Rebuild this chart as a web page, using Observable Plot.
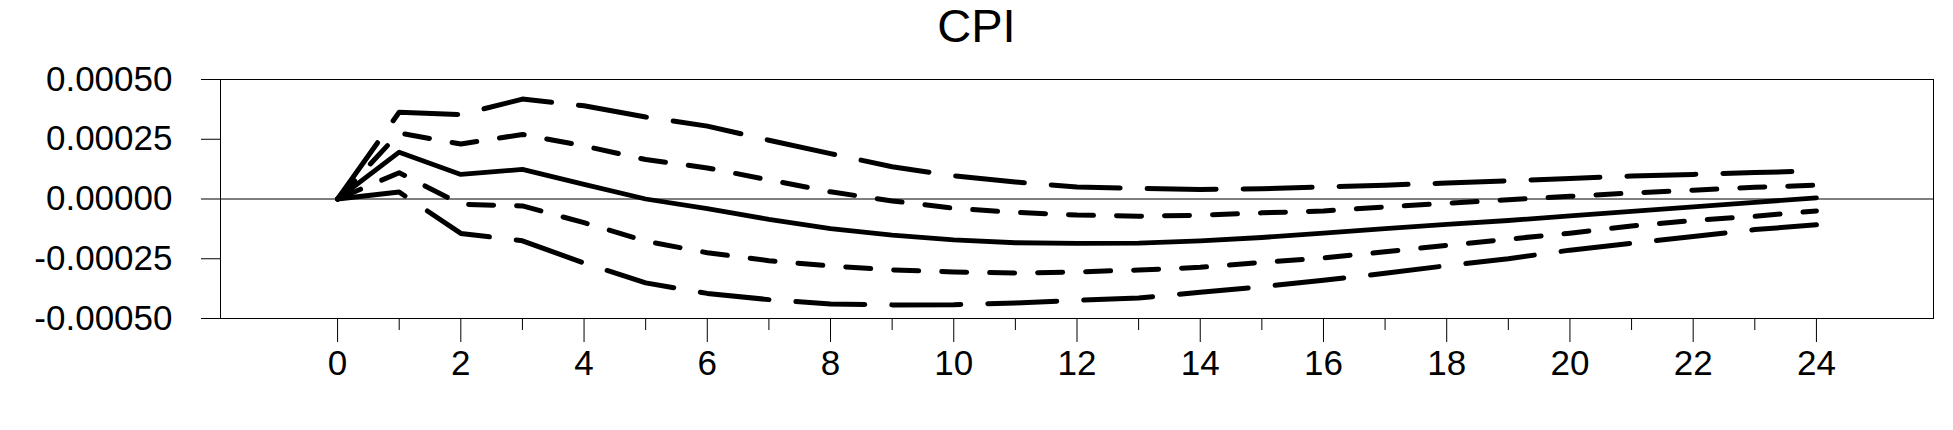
<!DOCTYPE html>
<html>
<head>
<meta charset="utf-8">
<script src="https://cdn.jsdelivr.net/npm/d3@7"></script>
<script src="https://cdn.jsdelivr.net/npm/@observablehq/plot@0.6"></script>
<style>
  body { margin: 0; background: white; font-family: "Liberation Sans", Arial, sans-serif; overflow: hidden; }
  #title { height: 56px; line-height: 52px; font-size: 47px; text-align: center; color: black; }
  #chart svg { display: block; }
</style>
</head>
<body>
<div id="title">CPI</div>
<div id="chart"></div>
<script>
// impulse response horizon
const periods = [0, 1, 2, 3, 4, 5, 6, 7, 8, 9, 10, 11, 12, 13, 14, 15, 16, 17, 18, 19, 20, 21, 22, 23, 24]

// point response
const response = [0, 0.000196, 0.000103, 0.000124, 0.000061, 0.000000, -0.000040, -0.000085, -0.000124, -0.000151,
  -0.000171, -0.000183, -0.000186, -0.000185, -0.000175, -0.000161, -0.000143, -0.000124, -0.000106, -0.000090,
  -0.000071, -0.000052, -0.000033, -0.000014, 0.000005]

// inner band (short dashes)
const innerUpper = [0, 0.000276, 0.000230, 0.000270, 0.000222, 0.000165, 0.000130, 0.000080, 0.000030, -0.000008,
  -0.000039, -0.000056, -0.000067, -0.000072, -0.000068, -0.000058, -0.000050, -0.000033, -0.000018, -0.000003,
  0.000011, 0.000025, 0.000037, 0.000049, 0.000058]
const innerLower = [0, 0.000110, -0.000022, -0.000029, -0.000099, -0.000176, -0.000225, -0.000258, -0.000280, -0.000297,
  -0.000305, -0.000310, -0.000305, -0.000297, -0.000286, -0.000265, -0.000247, -0.000221, -0.000194, -0.000168,
  -0.000143, -0.000113, -0.000090, -0.000072, -0.000050]

// outer band (long dashes)
const outerUpper = [0, 0.000363, 0.000353, 0.000418, 0.000390, 0.000343, 0.000305, 0.000246, 0.000190, 0.000135,
  0.000097, 0.000071, 0.000050, 0.000044, 0.000040, 0.000043, 0.000051, 0.000058, 0.000067, 0.000076,
  0.000086, 0.000096, 0.000103, 0.000111, 0.000117]
const outerLower = [0, 0.000029, -0.000144, -0.000175, -0.000268, -0.000351, -0.000395, -0.000421, -0.000439, -0.000443,
  -0.000442, -0.000435, -0.000424, -0.000414, -0.000390, -0.000367, -0.000340, -0.000311, -0.000279, -0.000250,
  -0.000214, -0.000185, -0.000157, -0.000128, -0.000108]

const yTicks = [-0.0005, -0.00025, 0, 0.00025, 0.0005]
const xMajor = [0, 2, 4, 6, 8, 10, 12, 14, 16, 18, 20, 22, 24]
const xMinor = [1, 3, 5, 7, 9, 11, 13, 15, 17, 19, 21, 23]

const rows = periods.map((t, i) => ({
  t,
  response: response[i],
  innerUpper: innerUpper[i],
  innerLower: innerLower[i],
  outerUpper: outerUpper[i],
  outerLower: outerLower[i]
}))

const longDash = {strokeWidth: 5, strokeDasharray: "69,27", strokeLinecap: "round"}
const shortDash = {strokeWidth: 5, strokeDasharray: "25,23", strokeLinecap: "round"}

let chart = Plot.plot({
  width: 1953,
  height: 374,
  marginTop: 23,
  marginBottom: 112,
  marginLeft: 220,
  marginRight: 20,
  style: {fontFamily: "Liberation Sans, Arial, sans-serif", fontSize: "35px", color: "black", background: "white"},
  x: {domain: [-1.9, 25.9], label: null},
  y: {domain: [-0.0005, 0.0005], label: null},
  marks: [
    Plot.ruleY([0], {stroke: "black", strokeWidth: 1}),
    Plot.line(rows, {x: 't', y: 'outerUpper', stroke: "black", ...longDash}),
    Plot.line(rows, {x: 't', y: 'outerLower', stroke: "black", ...longDash}),
    Plot.line(rows, {x: 't', y: 'innerUpper', stroke: "black", ...shortDash}),
    Plot.line(rows, {x: 't', y: 'innerLower', stroke: "black", ...shortDash}),
    Plot.line(rows, {x: 't', y: 'response', stroke: "black", strokeWidth: 4.8}),
    Plot.frame({stroke: "black", strokeWidth: 1}),
    Plot.axisY({ticks: yTicks, tickSize: 19, tickPadding: 29, fontSize: 35, tickFormat: d => d.toFixed(5)}),
    Plot.axisX({ticks: xMajor, tickSize: 24, tickPadding: 8, fontSize: 35, tickFormat: d => String(d)}),
    Plot.axisX({ticks: xMinor, tickSize: 12, tickFormat: () => ""})
  ]
})

d3.select('#chart').append(() => chart)
</script>
</body>
</html>
